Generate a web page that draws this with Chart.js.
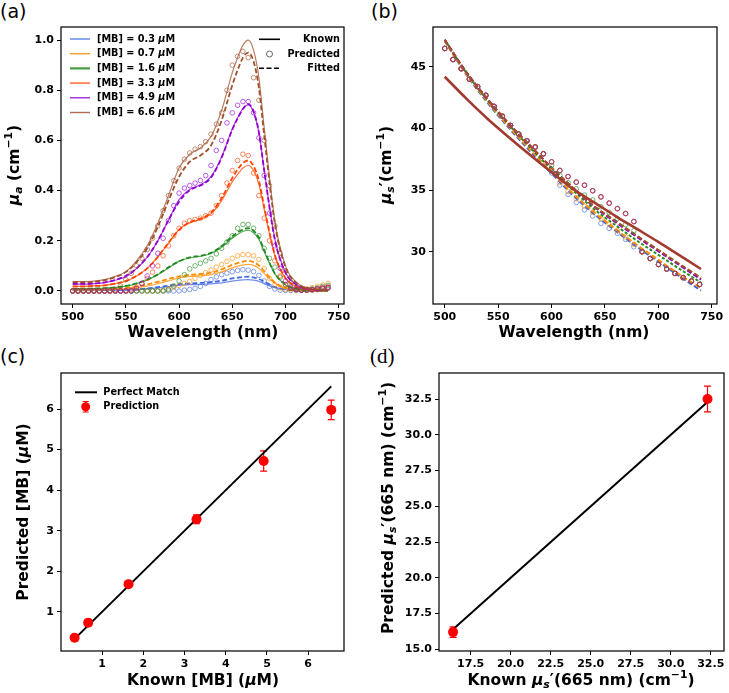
<!DOCTYPE html>
<html>
<head>
<meta charset="utf-8">
<script src="https://cdn.jsdelivr.net/npm/chart.js@4.4.0/dist/chart.umd.min.js"></script>
<style>
  body { margin: 0; background: #fff; width: 729px; height: 693px; position: relative; overflow: hidden; }
  canvas { position: absolute; }
  .tag { position: absolute; font: 19px "DejaVu Sans"; line-height: 1; color: #000; }
</style>
</head>
<body>
<div class="tag" style="left:0px;top:2px">(a)</div>
<div class="tag" style="left:371px;top:2px">(b)</div>
<div class="tag" style="left:0px;top:347px">(c)</div>
<div class="tag" style="left:370px;top:346px;font-family:'Liberation Serif';font-size:21px">(d)</div>
<canvas id="ca" style="left:0;top:0;width:360px;height:345px" width="360" height="345"></canvas>
<canvas id="cb" style="left:365px;top:0;width:364px;height:345px" width="364" height="345"></canvas>
<canvas id="cc" style="left:0;top:350px;width:360px;height:343px" width="360" height="343"></canvas>
<canvas id="cd" style="left:365px;top:350px;width:364px;height:343px" width="364" height="343"></canvas>
<script>
// ---- (a) absorption, mu_a ----
const concLabels = ["0.3", "0.7", "1.6", "3.3", "4.9", "6.6"];
const concColors = ["#4169e1", "#ff8c00", "#228b22", "#ff4500", "#9400d3", "#a0522d"];

const aLineWl = [500, 510, 520, 530, 540, 550, 560, 570, 580, 590, 600, 610, 620, 630, 640, 650, 655, 660, 665, 670, 675, 680, 690, 700, 710, 720, 730, 740];
const knownMa03 = [.002, .002, .002, .002, .003, .003, .005, .008, .012, .017, .022, .025, .026, .028, .032, .039, .042, .044, .045, .043, .038, .029, .013, .005, .002, .001, 0, 0];
const knownMa07 = [.004, .004, .004, .005, .006, .008, .013, .019, .029, .040, .052, .058, .060, .065, .076, .092, .099, .104, .106, .102, .090, .069, .030, .011, .004, .001, .001, 0];
const knownMa16 = [.009, .009, .009, .011, .014, .019, .029, .044, .065, .092, .119, .132, .138, .149, .174, .211, .225, .237, .242, .232, .206, .157, .068, .024, .008, .003, .002, .001];
const knownMa33 = [.018, .018, .020, .022, .029, .039, .060, .090, .135, .190, .245, .272, .285, .307, .360, .435, .465, .490, .500, .480, .425, .325, .140, .050, .018, .006, .003, .002];
const knownMa49 = [.027, .027, .029, .033, .043, .057, .089, .134, .200, .282, .364, .404, .423, .456, .534, .646, .690, .727, .742, .712, .631, .482, .208, .074, .026, .009, .004, .003];
const knownMa66 = [.037, .037, .039, .045, .058, .077, .120, .180, .270, .380, .490, .545, .570, .615, .720, .870, .930, .980, 1.000, .960, .850, .650, .280, .100, .035, .012, .006, .004];

const fitMa03 = [.002, .002, .003, .003, .004, .005, .007, .010, .015, .021, .027, .030, .032, .035, .041, .050, .053, .056, .057, .054, .048, .037, .016, .006, .002, .001, .001, 0];
const fitMa07 = [.005, .005, .006, .007, .009, .012, .018, .026, .036, .048, .058, .064, .067, .073, .086, .104, .111, .117, .120, .115, .102, .078, .034, .012, .005, .002, .001, .001];
const fitMa16 = [.009, .009, .010, .011, .014, .020, .030, .045, .066, .094, .118, .134, .140, .152, .179, .218, .233, .245, .250, .240, .213, .162, .070, .025, .009, .003, .002, .001];
const fitMa33 = [.018, .018, .020, .022, .029, .040, .060, .090, .136, .192, .243, .274, .288, .312, .370, .450, .484, .510, .520, .498, .440, .336, .144, .052, .019, .007, .003, .002];
const fitMa49 = [.028, .028, .030, .034, .044, .060, .090, .135, .200, .282, .356, .402, .420, .452, .532, .643, .688, .725, .745, .715, .633, .480, .205, .073, .026, .010, .005, .003];
const fitMa66 = [.035, .035, .037, .043, .055, .076, .114, .170, .255, .360, .455, .515, .540, .580, .680, .820, .880, .930, .950, .915, .810, .620, .270, .095, .033, .012, .006, .005];

const aPredWl = [500, 505, 510, 515, 520, 525, 530, 535, 540, 545, 550, 555, 560, 565, 570, 575, 580, 585, 590, 595, 600, 605, 610, 615, 620, 625, 630, 635, 640, 645, 650, 655, 660, 665, 670, 675, 680, 685, 690, 695, 700, 705, 710, 715, 720, 725, 730, 735, 740];
const predMa03 = [0, 0, 0, 0, 0, 0, 0, 0, 0, 0, 0, 0, 0, 0, 0, 0, 0, 0, 0, 0, 0, .003, .006, .010, .018, .030, .045, .056, .065, .071, .077, .082, .085, .083, .077, .062, .040, .018, .008, .003, .002, .002, .002, .003, .004, .006, .008, .010, .012];
const predMa07 = [0, 0, 0, 0, 0, 0, 0, 0, 0, 0, 0, 0, 0, 0, 0, 0, 0, .003, .008, .015, .022, .030, .038, .050, .062, .073, .084, .095, .105, .118, .130, .140, .145, .145, .140, .125, .090, .050, .025, .012, .006, .004, .004, .006, .009, .013, .018, .024, .030];
const predMa16 = [0, 0, 0, 0, 0, 0, 0, 0, 0, 0, 0, 0, 0, 0, 0, 0, 0, 0, .005, .020, .040, .065, .088, .100, .110, .120, .130, .148, .170, .195, .220, .250, .265, .265, .250, .220, .170, .130, .095, .055, .025, .010, .005, .003, .005, .008, .012, .018, .022];
const predMa33 = [0, 0, 0, 0, 0, 0, 0, 0, 0, 0, 0, .005, .015, .030, .050, .075, .100, .140, .180, .220, .250, .270, .280, .285, .290, .300, .310, .340, .380, .430, .480, .520, .545, .540, .470, .380, .290, .200, .120, .060, .025, .010, .005, .003, .003, .005, .008, .012, .015];
const predMa49 = [0, 0, 0, 0, 0, 0, 0, 0, 0, 0, 0, 0, .010, .030, .060, .100, .150, .210, .280, .340, .390, .410, .420, .430, .440, .460, .500, .560, .600, .670, .710, .740, .755, .755, .710, .610, .460, .310, .180, .090, .040, .015, .006, .003, .003, .005, .008, .012, .015];
const predMa66 = [0, 0, 0, 0, 0, 0, 0, 0, .005, .020, .045, .070, .100, .130, .165, .210, .260, .320, .380, .440, .490, .525, .550, .565, .575, .595, .625, .665, .710, .800, .900, .935, .955, .930, .850, .760, .600, .420, .260, .150, .080, .035, .012, .005, .003, .003, .005, .008, .010];

const aXTicks = [500, 550, 600, 650, 700, 750];
const aYTicks = [0, 0.2, 0.4, 0.6, 0.8, 1.0];

// ---- (b) reduced scattering, mu_s' ----
const bLineWl = [500, 520, 540, 560, 580, 600, 620, 640, 660, 680, 700, 720, 740];
const knownMusp = [44.2, 42.45, 40.8, 39.3, 37.85, 36.45, 35.1, 34.0, 32.9, 31.85, 30.8, 29.7, 28.6];
const fitMusp03 = [47.1, 44.4, 42.1, 40.05, 38.15, 36.35, 34.6, 33.05, 31.7, 30.4, 29.2, 28.0, 26.85];
const fitMusp07 = [47.1, 44.45, 42.2, 40.15, 38.3, 36.5, 34.75, 33.2, 31.85, 30.55, 29.35, 28.15, 27.05];
const fitMusp16 = [47.2, 44.55, 42.3, 40.3, 38.45, 36.7, 35.0, 33.45, 32.15, 30.9, 29.75, 28.6, 27.5];
const fitMusp33 = [47.2, 44.6, 42.4, 40.4, 38.6, 36.85, 35.2, 33.7, 32.45, 31.25, 30.1, 28.95, 27.8];
const fitMusp49 = [47.2, 44.6, 42.4, 40.4, 38.6, 36.8, 35.15, 33.65, 32.4, 31.2, 30.05, 28.9, 27.75];
const fitMusp66 = [47.2, 44.6, 42.4, 40.4, 38.6, 36.85, 35.2, 33.7, 32.5, 31.3, 30.15, 29.0, 27.9];

const bPredWl = [500, 507.7, 515.4, 523.1, 530.8, 538.5, 546.2, 553.9, 561.6, 569.3, 577, 584.7, 592.4, 600.1, 607.8, 615.5, 623.2, 630.9, 638.6, 646.3, 654, 661.7, 669.4, 677.1, 684.8, 692.5, 700.2, 707.9, 715.6, 723.3, 731, 738.7];
const predMusp03 = [46.5, 45.6, 44.85, 44.0, 43.4, 42.7, 41.8, 41.0, 40.25, 39.55, 39.0, 38.5, 37.95, 36.4, 35.4, 34.65, 34.0, 33.4, 32.9, 32.3, 31.9, 31.5, 31.0, 30.4, 30.0, 29.45, 28.97, 28.6, 28.24, 27.9, 27.62, 27.35];
const predMusp07 = [46.5, 45.6, 44.85, 44.0, 43.4, 42.7, 41.8, 41.0, 40.25, 39.55, 39.0, 38.5, 37.95, 36.6, 35.6, 34.9, 34.3, 33.7, 33.2, 32.7, 32.2, 31.7, 31.2, 30.6, 30.0, 29.45, 28.97, 28.6, 28.24, 27.9, 27.62, 27.35];
const predMusp16 = [46.5, 45.6, 44.85, 44.0, 43.4, 42.7, 41.8, 41.0, 40.25, 39.55, 39.0, 38.5, 37.95, 37.0, 36.2, 35.6, 35.1, 34.6, 34.2, 33.65, 33.2, 32.7, 32.2, 31.7, 30.0, 29.45, 28.97, 28.6, 28.24, 27.9, 27.62, 27.35];
const predMusp33 = [46.5, 45.6, 44.85, 44.0, 43.4, 42.7, 41.8, 41.0, 40.25, 39.55, 39.0, 38.5, 37.95, 37.3, 36.6, 36.1, 35.65, 35.4, 34.95, 34.45, 33.95, 33.5, 33.1, 32.45, 30.0, 29.45, 28.97, 28.6, 28.24, 27.9, 27.62, 27.35];
const predMusp49 = [46.5, 45.6, 44.85, 44.0, 43.4, 42.7, 41.8, 41.0, 40.25, 39.55, 39.0, 38.5, 37.95, 37.3, 36.6, 36.1, 35.65, 35.4, 34.95, 34.45, 33.95, 33.5, 33.1, 32.45, 30.0, 29.45, 28.97, 28.6, 28.24, 27.9, 27.62, 27.35];
const predMusp66 = [46.5, 45.6, 44.85, 44.0, 43.4, 42.7, 41.8, 41.0, 40.25, 39.55, 39.0, 38.5, 37.95, 37.3, 36.6, 36.1, 35.65, 35.4, 34.95, 34.45, 33.95, 33.5, 33.1, 32.45, 30.0, 29.45, 28.97, 28.6, 28.24, 27.9, 27.62, 27.35];

const bXTicks = [500, 550, 600, 650, 700, 750];
const bYTicks = [30, 35, 40, 45];

// ---- (c) predicted vs known concentration ----
const knownMB = [0.33, 0.66, 1.64, 3.29, 4.92, 6.56];
const predMB = [0.36, 0.73, 1.68, 3.28, 4.72, 5.98];
const predMBErr = [0.02, 0.04, 0.04, 0.11, 0.25, 0.24];
const cTicks = [1, 2, 3, 4, 5, 6];

// ---- (d) predicted vs known mu_s' at 665 nm ----
const knownMusp665 = [16.4, 32.3];
const predMusp665 = [16.2, 32.5];
const predMusp665Err = [0.37, 0.9];
const dTicks = [17.5, 20.0, 22.5, 25.0, 27.5, 30.0, 32.5];
const dYTicks = [15.0, 17.5, 20.0, 22.5, 25.0, 27.5, 30.0, 32.5];

// ---------- helpers ----------
function pts(xs, ys) {
  return xs.map((x, i) => ({ x: x, y: ys[i] }));
}

function rgba(hex, a) {
  const n = parseInt(hex.slice(1), 16);
  return `rgba(${n >> 16},${(n >> 8) & 255},${n & 255},${a})`;
}

// draws mixed-style text: parts = [{t, i (italic), k: 'sub'|'sup'}]
function richText(ctx, parts, x, y, size, align, vertical) {
  const fontOf = p => {
    const s = p.k ? size * 0.7 : size;
    return (p.i ? "italic " : "") + "bold " + s + 'px "DejaVu Sans"';
  };
  ctx.save();
  ctx.translate(x, y);
  if (vertical) ctx.rotate(-Math.PI / 2);
  ctx.fillStyle = "#000";
  ctx.textBaseline = "middle";
  ctx.textAlign = "left";
  const widths = parts.map(p => { ctx.font = fontOf(p); return ctx.measureText(p.t).width; });
  const total = widths.reduce((a, b) => a + b, 0);
  let cx = align === "center" ? -total / 2 : align === "right" ? -total : 0;
  parts.forEach((p, i) => {
    ctx.font = fontOf(p);
    const dy = p.k === "sub" ? size * 0.3 : p.k === "sup" ? -size * 0.35 : 0;
    ctx.fillText(p.t, cx, dy);
    cx += widths[i];
  });
  ctx.restore();
}

function axis(min, max, ticks, fmt, size, isX) {
  return {
    type: "linear",
    min: min,
    max: max,
    afterBuildTicks: s => { s.ticks = ticks.map(v => ({ value: v })); },
    afterFit: s => { if (isX) s.height = size; else s.width = size; },
    ticks: {
      autoSkip: false, maxRotation: 0, padding: 3, color: "#000",
      font: { family: "DejaVu Sans", size: 11, weight: "bold" },
      callback: v => fmt(v)
    },
    grid: { drawOnChartArea: false, drawTicks: true, tickLength: 4, color: "#000", lineWidth: 1 },
    border: { display: false }
  };
}

const framePlugin = {
  id: "frame",
  afterDatasetsDraw(chart) {
    const { ctx, chartArea: a } = chart;
    ctx.save();
    ctx.strokeStyle = "#111";
    ctx.lineWidth = 1.3;
    ctx.strokeRect(a.left, a.top, a.right - a.left, a.bottom - a.top);
    ctx.restore();
  }
};

function titles(xt, yt) {
  return {
    id: "titles",
    afterDraw(chart) {
      richText(chart.ctx, xt.parts, xt.x, xt.y, 15.5, "center", false);
      richText(chart.ctx, yt.parts, yt.x, yt.y, 15.5, "center", true);
    }
  };
}

function errorBars(xs, ys, errs) {
  return {
    id: "errbars",
    beforeDatasetsDraw(chart) {
      const { ctx, scales } = chart;
      ctx.save();
      ctx.strokeStyle = "#ff0000";
      ctx.lineWidth = 1.2;
      xs.forEach((xv, i) => {
        const px = scales.x.getPixelForValue(xv);
        const top = scales.y.getPixelForValue(ys[i] + errs[i]);
        const bot = scales.y.getPixelForValue(ys[i] - errs[i]);
        ctx.beginPath();
        ctx.moveTo(px, top); ctx.lineTo(px, bot);
        ctx.moveTo(px - 3.5, top); ctx.lineTo(px + 3.5, top);
        ctx.moveTo(px - 3.5, bot); ctx.lineTo(px + 3.5, bot);
        ctx.stroke();
      });
      ctx.restore();
    }
  };
}

function baseOptions(pad, plugins) {
  return {
    responsive: false,
    animation: false,
    events: [],
    layout: { padding: pad },
    plugins: Object.assign({ legend: { display: false }, tooltip: { enabled: false } }, plugins || {})
  };
}

const mu = { t: "\u03bc", i: 1 };

// ---------- (a) ----------
const knownMa = [knownMa03, knownMa07, knownMa16, knownMa33, knownMa49, knownMa66];
const fitMa = [fitMa03, fitMa07, fitMa16, fitMa33, fitMa49, fitMa66];
const predMa = [predMa03, predMa07, predMa16, predMa33, predMa49, predMa66];
const aSets = [];
concColors.forEach((c, i) => {
  aSets.push({ data: pts(aLineWl, knownMa[i]), borderColor: rgba(c, 0.75), borderWidth: 1.2, pointRadius: 0, cubicInterpolationMode: "monotone", order: 20 - i });
  aSets.push({ data: pts(aLineWl, fitMa[i]), borderColor: c, borderWidth: 1.8, borderDash: [5, 2.5], pointRadius: 0, cubicInterpolationMode: "monotone", order: 20 - i });
  aSets.push({ data: pts(aPredWl, predMa[i]), showLine: false, pointRadius: 2.3, pointBorderWidth: 0.9, pointBorderColor: rgba(c, 0.7), pointBackgroundColor: "rgba(0,0,0,0)", order: 20 - i });
});

const legendA = {
  id: "legendA",
  afterDraw(chart) {
    const ctx = chart.ctx;
    ctx.save();
    concColors.forEach((c, i) => {
      const y = 39 + i * 14.7;
      ctx.strokeStyle = rgba(c, 0.85);
      ctx.lineWidth = i === 2 ? 2.2 : 1.4;
      ctx.beginPath(); ctx.moveTo(70, y); ctx.lineTo(90, y); ctx.stroke();
      richText(ctx, [{ t: "[MB] = " + concLabels[i] + " " }, mu, { t: "M" }], 97, y, 9.7, "left", false);
    });
    ctx.strokeStyle = "#000";
    ctx.lineWidth = 1.6;
    ctx.beginPath(); ctx.moveTo(259, 39.3); ctx.lineTo(280, 39.3); ctx.stroke();
    richText(ctx, [{ t: "Known" }], 340, 39.3, 9.7, "right", false);
    ctx.lineWidth = 0.9;
    ctx.strokeStyle = "#555";
    ctx.beginPath(); ctx.arc(269.5, 54, 3, 0, Math.PI * 2); ctx.stroke();
    richText(ctx, [{ t: "Predicted" }], 340, 54, 9.7, "right", false);
    ctx.strokeStyle = "#000";
    ctx.lineWidth = 1.6;
    ctx.setLineDash([5, 2.5]);
    ctx.beginPath(); ctx.moveTo(259, 68.3); ctx.lineTo(280, 68.3); ctx.stroke();
    ctx.setLineDash([]);
    richText(ctx, [{ t: "Fitted" }], 340, 68.3, 9.7, "right", false);
    ctx.restore();
  }
};

new Chart(document.getElementById("ca"), {
  type: "line",
  data: { datasets: aSets },
  options: Object.assign(baseOptions({ top: 27, right: 16, left: 0, bottom: 0 }), {
    scales: {
      x: axis(489, 755, aXTicks, v => String(v), 41, true),
      y: axis(-0.052, 1.052, aYTicks, v => v.toFixed(1), 61, false)
    }
  }),
  plugins: [framePlugin, legendA, titles(
    { parts: [{ t: "Wavelength (nm)" }], x: 203, y: 333 },
    { parts: [mu, { t: "a", k: "sub", i: 1 }, { t: " (cm" }, { t: "\u22121", k: "sup" }, { t: ")" }], x: 15, y: 165 }
  )]
});

// ---------- (b) ----------
const fitMusp = [fitMusp03, fitMusp07, fitMusp16, fitMusp33, fitMusp49, fitMusp66];
const predMusp = [predMusp03, predMusp07, predMusp16, predMusp33, predMusp49, predMusp66];
const bSets = [{ data: pts(bLineWl, knownMusp), borderColor: "#a33a30", borderWidth: 2.6, pointRadius: 0, cubicInterpolationMode: "monotone", order: 0 }];
concColors.forEach((c, i) => {
  bSets.push({ data: pts(bPredWl, predMusp[i]), showLine: false, pointRadius: 2.3, pointBorderWidth: 0.9, pointBorderColor: rgba(c, 0.7), pointBackgroundColor: "rgba(0,0,0,0)", order: 10 - i });
  bSets.push({ data: pts(bLineWl, fitMusp[i]), borderColor: c, borderWidth: 2, borderDash: i === 2 ? [3, 2] : [5, 2.5], pointRadius: 0, cubicInterpolationMode: "monotone", order: 20 - i });
});

new Chart(document.getElementById("cb"), {
  type: "line",
  data: { datasets: bSets },
  options: Object.assign(baseOptions({ top: 27, right: 12, left: 0, bottom: 0 }), {
    scales: {
      x: axis(489, 755, bXTicks, v => String(v), 41, true),
      y: axis(25.76, 48.24, bYTicks, v => String(v), 68, false)
    }
  }),
  plugins: [framePlugin, titles(
    { parts: [{ t: "Wavelength (nm)" }], x: 209, y: 333 },
    { parts: [mu, { t: "s", k: "sub", i: 1 }, { t: "\u2032" }, { t: "(cm" }, { t: "\u22121", k: "sup" }, { t: ")" }], x: 22, y: 165 }
  )]
});

// ---------- (c) ----------
const legendC = {
  id: "legendC",
  afterDraw(chart) {
    const ctx = chart.ctx;
    ctx.save();
    ctx.strokeStyle = "#000";
    ctx.lineWidth = 2;
    ctx.beginPath(); ctx.moveTo(75, 42.3); ctx.lineTo(97, 42.3); ctx.stroke();
    richText(ctx, [{ t: "Perfect Match" }], 103.3, 42.3, 9.7, "left", false);
    ctx.strokeStyle = "#ff0000";
    ctx.lineWidth = 1.2;
    ctx.beginPath();
    ctx.moveTo(85.7, 51.5); ctx.lineTo(85.7, 62);
    ctx.moveTo(82.7, 51.5); ctx.lineTo(88.7, 51.5);
    ctx.moveTo(82.7, 62); ctx.lineTo(88.7, 62);
    ctx.stroke();
    ctx.fillStyle = "#ff0000";
    ctx.beginPath(); ctx.arc(85.7, 56.7, 4.5, 0, Math.PI * 2); ctx.fill();
    richText(ctx, [{ t: "Prediction" }], 103.3, 56.7, 9.7, "left", false);
    ctx.restore();
  }
};

new Chart(document.getElementById("cc"), {
  type: "line",
  data: {
    datasets: [
      { data: pts(knownMB, predMB), showLine: false, pointRadius: 5, pointBackgroundColor: "#ff0000", pointBorderWidth: 0, order: 0 },
      { data: pts([knownMB[0], knownMB[knownMB.length - 1]], [knownMB[0], knownMB[knownMB.length - 1]]), borderColor: "#000", borderWidth: 2, pointRadius: 0, order: 1 }
    ]
  },
  options: Object.assign(baseOptions({ top: 23, right: 16, left: 0, bottom: 0 }), {
    scales: {
      x: axis(0.0, 6.87, cTicks, v => String(v), 42, true),
      y: axis(0.03, 6.89, cTicks, v => String(v), 61, false)
    }
  }),
  plugins: [errorBars(knownMB, predMB, predMBErr), framePlugin, legendC, titles(
    { parts: [{ t: "Known [MB] (" }, mu, { t: "M)" }], x: 203, y: 331 },
    { parts: [{ t: "Predicted [MB] (" }, mu, { t: "M)" }], x: 24, y: 162 }
  )]
});

// ---------- (d) ----------
new Chart(document.getElementById("cd"), {
  type: "line",
  data: {
    datasets: [
      { data: pts(knownMusp665, predMusp665), showLine: false, pointRadius: 5, pointBackgroundColor: "#ff0000", pointBorderWidth: 0, order: 0 },
      { data: pts(knownMusp665, knownMusp665), borderColor: "#000", borderWidth: 2, pointRadius: 0, order: 1 }
    ]
  },
  options: Object.assign(baseOptions({ top: 23, right: 2, left: 0, bottom: 0 }), {
    scales: {
      x: axis(15.52, 33.33, dTicks, v => v.toFixed(1), 42, true),
      y: axis(14.88, 34.32, dYTicks, v => v.toFixed(1), 74, false)
    }
  }),
  plugins: [errorBars(knownMusp665, predMusp665, predMusp665Err), framePlugin, titles(
    { parts: [{ t: "Known " }, mu, { t: "s", k: "sub", i: 1 }, { t: "\u2032" }, { t: "(665 nm) (cm" }, { t: "\u22121", k: "sup" }, { t: ")" }], x: 216, y: 331 },
    { parts: [{ t: "Predicted " }, mu, { t: "s", k: "sub", i: 1 }, { t: "\u2032" }, { t: "(665 nm) (cm" }, { t: "\u22121", k: "sup" }, { t: ")" }], x: 24, y: 158 }
  )]
});
</script>
</body>
</html>
